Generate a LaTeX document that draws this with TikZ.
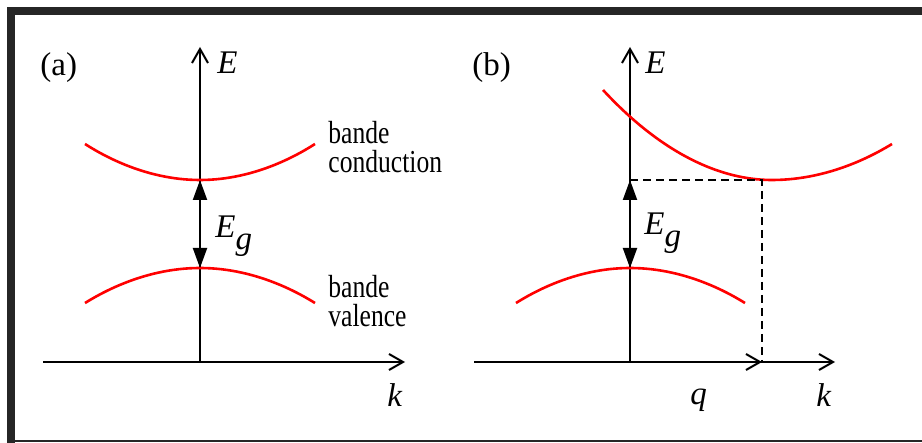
\documentclass[tikz,border=0pt]{standalone}
\usepackage{fontspec}
\setmainfont{Liberation Serif}
\usepackage{graphicx}
\usetikzlibrary{arrows.meta}
\tikzset{
  frame/.style={fill=black!85},
  axis/.style={line width=1pt, -{Straight Barb[length=7pt,width=8pt]}},
  band/.style={red, line width=1.3pt},
  gap/.style={line width=1pt, {Triangle[length=10pt,width=7pt]}-{Triangle[length=10pt,width=7pt]}},
  guide/.style={line width=1pt, dash pattern=on 4pt off 2.5pt},
  lbl/.style={inner sep=0pt, anchor=base west, font=\fontsize{16.5}{18}\selectfont},
  txt/.style={inner sep=0pt, anchor=north west, align=left, font=\fontsize{16}{14.5}\selectfont}
}
\newcommand{\narrow}[1]{\scalebox{0.8}[1]{#1}}
\newcommand{\Egap}{\textit{E}\raisebox{-0.75ex}{\textit{g}}}

\begin{document}
\begin{tikzpicture}[x=0.5pt, y=-0.5pt]
  \useasboundingbox (0,0) rectangle (922,443);
  \fill[white] (0,0) rectangle (922,443);
  \fill[frame] (7,7) rectangle (15,443);
  \fill[frame] (7,7) rectangle (922,15);
  \draw[black!85, line width=0.8pt] (15,441) -- (922,441);

  % (a) direct gap
  \coordinate (oa) at (200,362);
  \coordinate (ea) at (200,47);
  \coordinate (kla) at (43,362);
  \coordinate (kra) at (405,362);
  \coordinate (cba) at (200,180);
  \coordinate (vba) at (200,268);
  \draw[axis] (kla) -- (kra);
  \draw[axis] (oa) -- (ea);
  \draw[band] (85,144) parabola bend (cba) (315,144);
  \draw[band] (85,303) parabola bend (vba) (315,303);
  \draw[gap] (cba) -- (vba);
  \node[lbl] (taga) at (40,76) {(a)};
  \node[lbl] (Ea) at (217,74) {\textit{E}};
  \node[lbl] (Ega) at (215,238) {\Egap};
  \node[lbl] (ka) at (387,407) {\textit{k}};
  \node[txt] (bc) at (328,121) {\narrow{bande}\\\narrow{conduction}};
  \node[txt] (bv) at (328,275) {\narrow{bande}\\\narrow{valence}};

  % (b) indirect gap
  \coordinate (ob) at (630,362);
  \coordinate (eb) at (630,47);
  \coordinate (klb) at (474,362);
  \coordinate (krb) at (835,362);
  \coordinate (qb) at (762,362);
  \coordinate (cbb) at (772,180);
  \coordinate (vbb) at (630,268);
  \coordinate (gtop) at (630,180);
  \coordinate (corner) at (762,180);
  \draw[axis] (klb) -- (krb);
  \draw[axis] (ob) -- (qb);
  \draw[axis] (ob) -- (eb);
  \draw[band] (603,90) parabola bend (cbb) (892,144);
  \draw[band] (516,303) parabola bend (vbb) (745,303);
  \draw[guide] (gtop) -- (corner) -- (qb);
  \draw[gap] (gtop) -- (vbb);
  \node[lbl] (tagb) at (472,76) {(b)};
  \node[lbl] (Eb) at (645,74) {\textit{E}};
  \node[lbl] (Egb) at (644,235) {\Egap};
  \node[lbl] (qlbl) at (690,405) {\textit{q}};
  \node[lbl] (kb) at (816,407) {\textit{k}};
\end{tikzpicture}
\end{document}
